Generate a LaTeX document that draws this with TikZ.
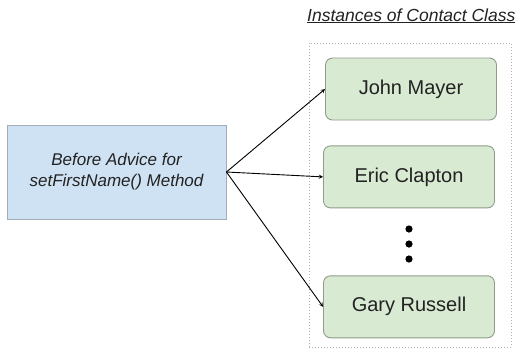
\documentclass[tikz,border=0pt]{standalone}
\usepackage{fontspec}
\setmainfont{Liberation Sans}
\usepackage{xcolor}
\usepackage{tikz}
\usetikzlibrary{arrows,positioning,shapes}

\definecolor{contactfill}{HTML}{D9EAD3}
\definecolor{contactline}{HTML}{8E9C89}
\definecolor{advicefill}{HTML}{CFE2F3}
\definecolor{adviceline}{HTML}{A3ADB8}
\definecolor{textgray}{HTML}{222222}

\tikzset{
    contact/.style={draw=contactline, fill=contactfill, rounded corners=7pt,
        line width=0.9pt, minimum width=171pt, minimum height=62pt,
        text=textgray, font=\fontsize{20}{23}\selectfont},
    advice/.style={draw=adviceline, fill=advicefill, line width=0.9pt,
        minimum width=219pt, minimum height=94pt, align=center,
        text=textgray, font=\fontsize{17}{21}\selectfont\itshape},
    link/.style={thick, ->, >=stealth, line width=0.9pt}
}

\begin{document}
\begin{tikzpicture}[x=1pt,y=-1pt]
                \useasboundingbox (0,0) rectangle (517,349);

                \node [draw=gray!60, dotted, line width=1pt,
                        minimum width=202pt, minimum height=304pt]
                                        (group) at (410,195) {};
                \node [anchor=base west, text=textgray, inner sep=0pt,
                        font=\fontsize{17.5}{20}\selectfont\itshape]
                                        (title) at (307,21) {\underline{Instances of Contact Class}};

                \node [advice] (advice) at (116.5,172) {Before Advice for\\setFirstName() Method};

                \node [contact] (john) at (411,89) {John Mayer};
                \node [contact, below = 25pt of john, xshift=-2pt] (eric) {Eric Clapton};
                \node [contact, below = 67pt of eric] (gary) {Gary Russell};

                \foreach \y in {229,244,259}
                    \fill (409,\y) circle (3.6pt);

                \draw[link] (advice.east) -- (john.west);
                \draw[link] (advice.east) -- (eric.west);
                \draw[link] (advice.east) -- (gary.west);
            \end{tikzpicture}
\end{document}
